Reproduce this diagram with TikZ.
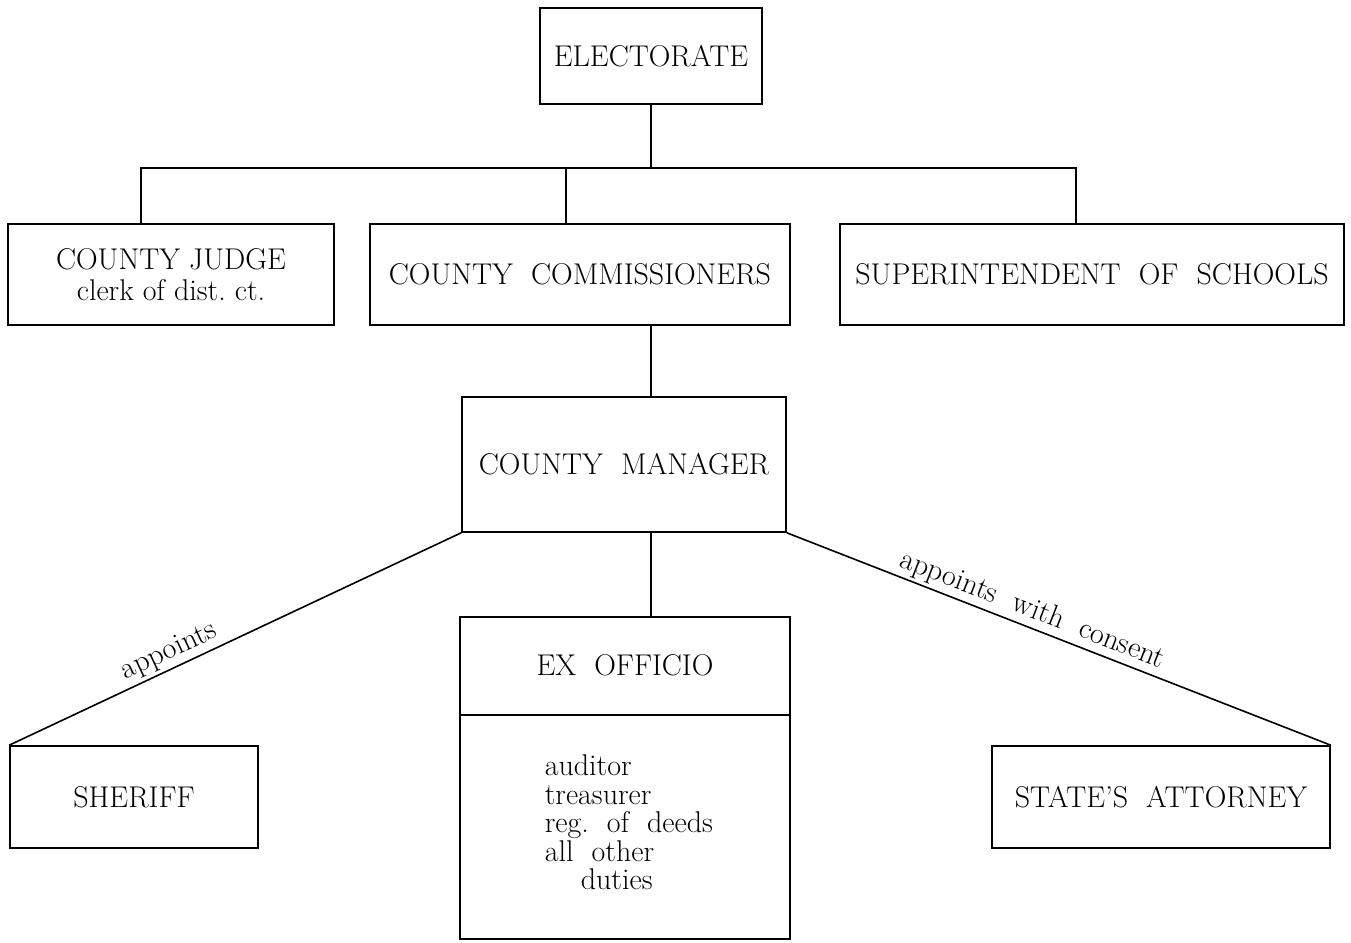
\documentclass[tikz,border=0pt]{standalone}
\begin{document}
\begin{tikzpicture}[x=1pt,y=-1pt,
  box/.style={draw,line width=1.6pt,rectangle,inner sep=0pt,align=center,
    font=\fontsize{30}{31}\selectfont},
  conn/.style={line width=1.6pt},
  lbl/.style={font=\fontsize{30}{32}\selectfont,sloped,above,inner sep=3pt}]
\useasboundingbox (0,0) rectangle (1351,942);
% boxes
\node[box,minimum width=222pt,minimum height=96pt] (elec) at (651,56) {ELECTORATE};
\node[box,minimum width=326pt,minimum height=101pt] (judge) at (171,274.5)
  {COUNTY JUDGE\\ clerk of dist.\ ct.};
\node[box,minimum width=420pt,minimum height=101pt] (comm) at (580,274.5)
  {COUNTY\ \ COMMISSIONERS};
\node[box,minimum width=504pt,minimum height=101pt] (supt) at (1092,274.5)
  {SUPERINTENDENT\ \ OF\ \ SCHOOLS};
\node[box,minimum width=324pt,minimum height=135pt] (mgr) at (624,464.5)
  {COUNTY\ \ MANAGER};
\node[box,minimum width=330pt,minimum height=322pt] (exo) at (625,778) {};
\node[box,draw=none,minimum width=330pt,minimum height=97pt] (exohead) at (625,665.5) {EX\ \ OFFICIO};
\draw[conn] (exohead.south west) -- (exohead.south east);
\node[box,draw=none,anchor=north west,align=left,
  font=\fontsize{30}{28.5}\selectfont] (duties) at (544,754)
  {auditor\\treasurer\\reg.\ \ of\ \ deeds\\all\ \ other\\\hspace*{1.2em}duties};
\node[box,minimum width=248pt,minimum height=102pt] (sher) at (134,797) {SHERIFF};
\node[box,minimum width=338pt,minimum height=102pt] (atty) at (1161,797)
  {STATE'S\ \ ATTORNEY};
% connectors
\coordinate (busL) at (141,168);
\coordinate (busR) at (1076,168);
\coordinate (busC) at (566,168);
\draw[conn] (elec.south) -- (elec.south |- busL);
\draw[conn] (judge.north -| busL) -- (busL) -- (busR) -- (supt.north -| busR);
\draw[conn] (busC) -- (comm.north -| busC);
\draw[conn] (comm.south -| elec.south) -- (mgr.north -| elec.south);
\draw[conn] (mgr.south -| elec.south) -- (exo.north -| elec.south);
\draw[conn] (mgr.south west) -- node[lbl,pos=0.63] {appoints} (sher.north west);
\draw[conn] (mgr.south east) -- node[lbl,pos=0.44] {appoints\ \ with\ \ consent} (atty.north east);
\end{tikzpicture}
\end{document}
